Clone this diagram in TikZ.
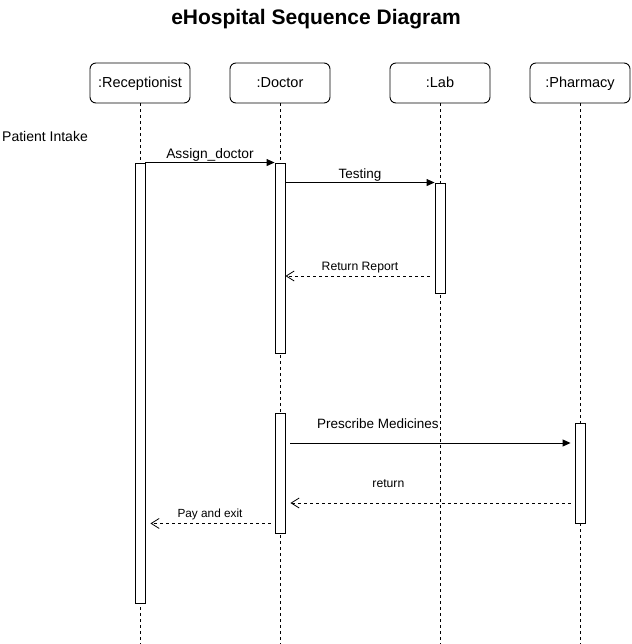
\documentclass[tikz,border=0pt]{standalone}
\usepackage{fontspec}
\setmainfont{Liberation Sans}
\usetikzlibrary{arrows.meta}
\begin{document}
\begin{tikzpicture}[x=1pt,y=-1pt,
  head/.style={draw, line width=0.9pt, rounded corners=6pt, minimum width=100pt, minimum height=40pt, inner sep=0pt, text height=13pt, text depth=3pt, font=\fontsize{14.5}{16}\selectfont},
  life/.style={line width=0.8pt, dash pattern=on 3pt off 3pt},
  bar/.style={draw, fill=white, line width=0.9pt, minimum width=10pt, inner sep=0pt},
  msg/.style={line width=0.9pt, -{Triangle[length=8pt,width=7pt]}},
  ret/.style={line width=0.8pt, dash pattern=on 3pt off 3pt, -{Straight Barb[length=8pt,width=10pt,line width=0.8pt]}},
  lbl/.style={anchor=base, inner sep=0pt},
]
\useasboundingbox (0,0) rectangle (631,644);
% title
\node[font=\fontsize{21}{24}\selectfont\bfseries] (title) at (316,19) {eHospital Sequence Diagram};
% lifeline heads
\node[head] (rec) at (140,83) {:Receptionist};
\node[head] (doc) at (280,83) {:Doctor};
\node[head] (lab) at (440,83) {:Lab};
\node[head] (pha) at (580,83) {:Pharmacy};
% lifelines
\coordinate (recEnd) at (140,644);
\coordinate (docEnd) at (280,644);
\coordinate (labEnd) at (440,644);
\coordinate (phaEnd) at (580,644);
\draw[life] (rec.south) -- (recEnd);
\draw[life] (doc.south) -- (docEnd);
\draw[life] (lab.south) -- (labEnd);
\draw[life] (pha.south) -- (phaEnd);
% activation bars
\node[bar, minimum height=440pt] (r1) at (140,383) {};
\node[bar, minimum height=190pt] (d1) at (280,258) {};
\node[bar, minimum height=110pt] (l1) at (440,238) {};
\node[bar, minimum height=120pt] (d2) at (280,473) {};
\node[bar, minimum height=100pt] (p1) at (580,473) {};
% note
\node[anchor=west, inner sep=0pt, font=\fontsize{14}{16}\selectfont] (intake) at (2,136) {Patient Intake};
% messages
\draw[msg] (r1.north east) -- (d1.north west)
  node[lbl, midway, yshift=4pt, font=\fontsize{13.8}{16}\selectfont] {Assign\_doctor};
\draw[msg] (d1.east |- l1.north) -- (l1.north west)
  node[lbl, midway, yshift=4pt, font=\fontsize{13.5}{16}\selectfont] {Testing};
\draw[ret, shorten <=5pt] (l1.west |- 0,276) -- (d1.east |- 0,276)
  node[lbl, midway, yshift=6pt, font=\fontsize{12.2}{14}\selectfont] {Return Report};
\draw[msg, shorten <=5pt, shorten >=4pt] (d2.east |- 0,443) -- (p1.west |- 0,443)
  node[lbl, pos=0.32, yshift=15pt, font=\fontsize{13.5}{16}\selectfont] {Prescribe Medicines};
\draw[ret, shorten <=4pt, shorten >=5pt] (p1.west |- 0,503) -- (d2.east |- 0,503)
  node[lbl, pos=0.644, yshift=16pt, font=\fontsize{12.2}{14}\selectfont] {return};
\draw[ret, shorten <=4pt, shorten >=5pt] (d2.west |- p1.south) -- (r1.east |- p1.south)
  node[lbl, midway, yshift=6pt, font=\fontsize{11.8}{14}\selectfont] {Pay and exit};
\end{tikzpicture}
\end{document}
